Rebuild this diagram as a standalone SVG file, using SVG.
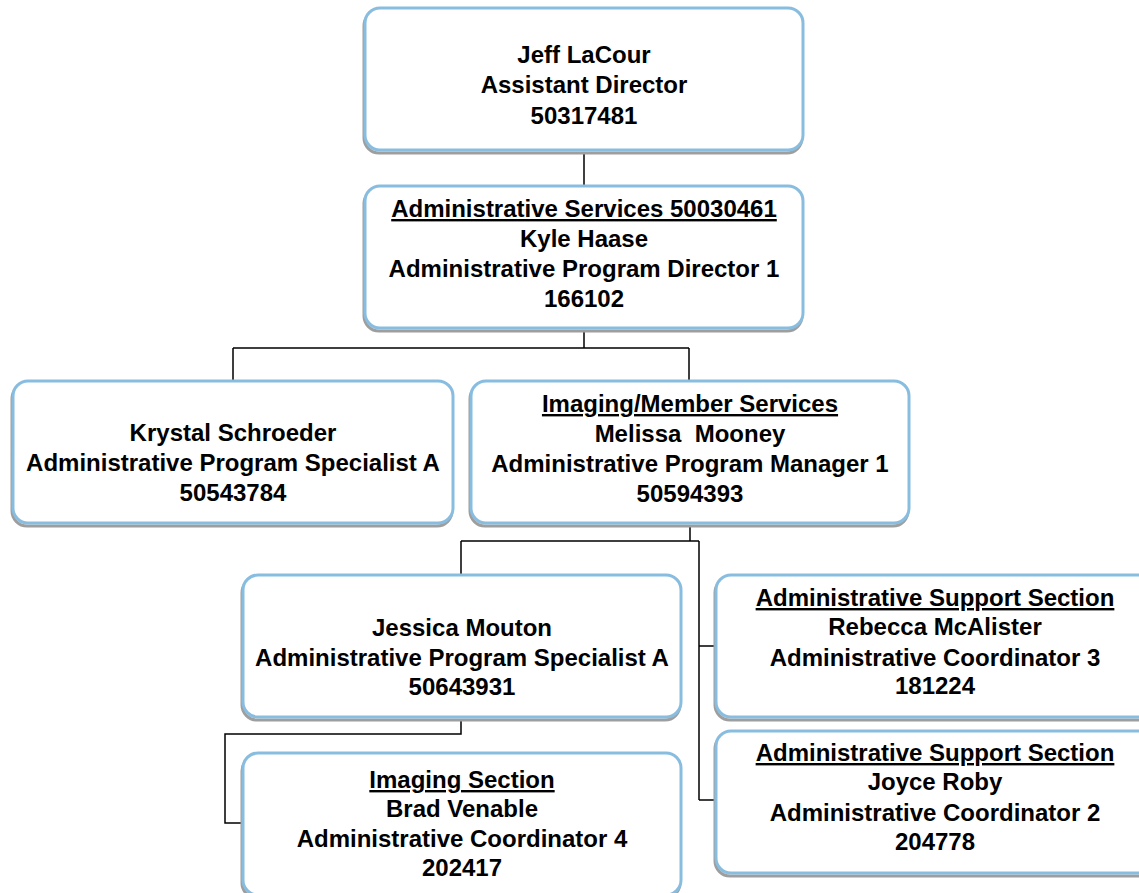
<svg xmlns="http://www.w3.org/2000/svg" width="1139" height="893" viewBox="0 0 1139 893">
<style>
.sh{fill:none;stroke:#9e9e9e;stroke-width:3}
.bx{fill:#ffffff;stroke:#88bde0;stroke-width:3}
.t{font-family:"Liberation Sans",Arial,sans-serif;font-weight:bold;font-size:24px;fill:#000;text-anchor:middle;white-space:pre}
.u{text-decoration:underline}
.c{fill:none;stroke:#000;stroke-width:1.5}
</style>
<rect width="1139" height="893" fill="#fff"/>
<g id="connectors">
<path class="c" d="M584,152V186"/>
<path class="c" d="M584,330V348M233,348H689M233,348V381M689,348V381"/>
<path class="c" d="M690,525V541M461,541H699M461,541V575M699,541V800M699,646H716M699,800H716"/>
<path class="c" d="M461,719V734H225V823H243"/>
</g>
<g id="n1">
<rect class="sh" x="364" y="11" width="438" height="142" rx="15"/>
<rect class="bx" x="365" y="8" width="438" height="142" rx="15"/>
<text class="t" x="584" y="63">Jeff LaCour</text>
<text class="t" x="584" y="93">Assistant Director</text>
<text class="t" x="584" y="124">50317481</text>
</g>
<g id="n2">
<rect class="sh" x="364" y="189" width="438" height="142" rx="15"/>
<rect class="bx" x="365" y="186" width="438" height="142" rx="15"/>
<text class="t u" x="584" y="217">Administrative Services 50030461</text>
<text class="t" x="584" y="247">Kyle Haase</text>
<text class="t" x="584" y="277">Administrative Program Director 1</text>
<text class="t" x="584" y="307">166102</text>
</g>
<g id="n3">
<rect class="sh" x="12" y="384" width="440" height="142" rx="15"/>
<rect class="bx" x="13" y="381" width="440" height="142" rx="15"/>
<text class="t" x="233" y="441">Krystal Schroeder</text>
<text class="t" x="233" y="471">Administrative Program Specialist A</text>
<text class="t" x="233" y="501">50543784</text>
</g>
<g id="n4">
<rect class="sh" x="470" y="384" width="438" height="142" rx="15"/>
<rect class="bx" x="471" y="381" width="438" height="142" rx="15"/>
<text class="t u" x="690" y="412">Imaging/Member Services</text>
<text class="t" x="690" y="442">Melissa  Mooney</text>
<text class="t" x="690" y="472">Administrative Program Manager 1</text>
<text class="t" x="690" y="502">50594393</text>
</g>
<g id="n5">
<rect class="sh" x="242" y="578" width="438" height="142" rx="15"/>
<rect class="bx" x="243" y="575" width="438" height="142" rx="15"/>
<text class="t" x="462" y="636">Jessica Mouton</text>
<text class="t" x="462" y="666">Administrative Program Specialist A</text>
<text class="t" x="462" y="695">50643931</text>
</g>
<g id="n6">
<rect class="sh" x="242" y="756" width="438" height="142" rx="15"/>
<rect class="bx" x="243" y="753" width="438" height="142" rx="15"/>
<text class="t u" x="462" y="788">Imaging Section</text>
<text class="t" x="462" y="817">Brad Venable</text>
<text class="t" x="462" y="847">Administrative Coordinator 4</text>
<text class="t" x="462" y="876">202417</text>
</g>
<g id="n7">
<rect class="sh" x="715" y="578" width="438" height="142" rx="15"/>
<rect class="bx" x="716" y="575" width="438" height="142" rx="15"/>
<text class="t u" x="935" y="606">Administrative Support Section</text>
<text class="t" x="935" y="635">Rebecca McAlister</text>
<text class="t" x="935" y="666">Administrative Coordinator 3</text>
<text class="t" x="935" y="694">181224</text>
</g>
<g id="n8">
<rect class="sh" x="715" y="734" width="438" height="142" rx="15"/>
<rect class="bx" x="716" y="731" width="438" height="142" rx="15"/>
<text class="t u" x="935" y="761">Administrative Support Section</text>
<text class="t" x="935" y="790">Joyce Roby</text>
<text class="t" x="935" y="821">Administrative Coordinator 2</text>
<text class="t" x="935" y="850">204778</text>
</g>
</svg>
